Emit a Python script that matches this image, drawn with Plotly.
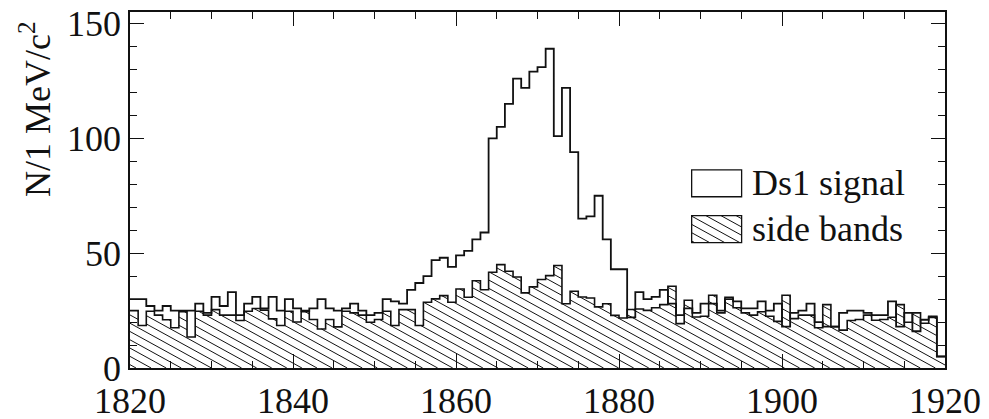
import numpy as np
import plotly.graph_objects as go

# Mass histogram, 1 MeV/c^2 bins from 1820 to 1920
bin_start = 1820
bin_width = 1
signal = [
    30, 30, 27, 25, 27, 25, 25, 25, 28, 24,
    31, 27, 33, 23, 28, 31, 26, 31, 25, 30,
    26, 25, 26, 30, 26, 25, 26, 28, 25, 23,
    24, 30, 29, 28, 34, 37, 40, 47, 48, 44,
    49, 51, 56, 59, 100, 105, 115, 126, 122, 129,
    131, 139, 101, 122, 94, 65, 66, 75, 56, 43,
    43, 22, 33, 30, 31, 34, 28, 23, 26, 24,
    28, 28, 25, 30, 29, 26, 26, 29, 25, 28,
    18, 24, 25, 28, 20, 18, 18, 24, 25, 25,
    24, 23, 23, 29, 18, 24, 16, 21, 22, 5,
]
side_bands = [
    25, 18.5, 24.7, 23, 21, 17.5, 24.5, 13.5, 24.7, 23,
    25.4, 23, 23, 20.7, 24.7, 25.9, 25.2, 21.4, 18.5, 24.7,
    20, 24.5, 21.1, 17, 21.1, 17.9, 24.7, 24, 23, 19.9,
    21.1, 24.7, 18.5, 25.4, 25.4, 18.5, 28.6, 30.1, 31.5, 28.6,
    34.4, 30.8, 38, 34.1, 41.7, 45, 42.1, 39.6, 32.7, 35.3,
    38.5, 40.2, 44.6, 28, 33.4, 30.9, 30.5, 26.6, 28, 22.9,
    21.8, 25.5, 25.7, 25.1, 26.2, 27.6, 35.6, 19.3, 29.5, 22.2,
    22.5, 31.7, 24, 30.8, 26.2, 24, 23, 24.5, 22.5, 20.3,
    31.7, 21.5, 23, 23, 17.5, 27.6, 18, 16.5, 20.7, 21.1,
    23, 20.8, 21.1, 22.1, 27.6, 19.9, 24, 19.5, 22.5, 5,
]
legend_labels = ["Ds1 signal", "side bands"]
x_ticks = [1820, 1840, 1860, 1880, 1900, 1920]
y_ticks = [0, 50, 100, 150]

X_RANGE = [1820, 1920]
Y_RANGE = [0, 155]

# figure geometry (pixels)
W, H = 989, 419
ML, MR, MT, MB = 130, 43.5, 12, 50.5
PW, PH = W - ML - MR, H - MT - MB
px_per_x = PW / (X_RANGE[1] - X_RANGE[0])
px_per_y = PH / (Y_RANGE[1] - Y_RANGE[0])

FONT = "Liberation Serif"
INK = "#111111"

n = len(signal)
edges = bin_start + bin_width * np.arange(n + 1)


def step_xy(values):
    v = list(values)
    return list(edges), v + [v[-1]]


# hatch: lines falling to the right, ~29 deg, every ~8 px vertically
hatch_slope_px = 0.55
hatch_gap_px = 8.3
slope = hatch_slope_px * px_per_x / px_per_y       # data units per MeV
gap = hatch_gap_px / px_per_y                        # data units


def hatch_under(values):
    xs, ys = [], []
    top = max(values) + slope * (edges[-1] - edges[0]) + gap
    c = gap * 0.4
    while c < top:
        seg = None
        for i, h in enumerate(values):
            x0 = edges[i] - edges[0]
            x1 = edges[i + 1] - edges[0]
            lo = max(x0, (c - h) / slope)
            hi = min(x1, c / slope)
            if hi > lo:
                if seg is not None and abs(seg[1] - lo) < 1e-9:
                    seg[1] = hi
                else:
                    if seg is not None:
                        xs += [edges[0] + seg[0], edges[0] + seg[1], None]
                        ys += [c - slope * seg[0], c - slope * seg[1], None]
                    seg = [lo, hi]
        if seg is not None:
            xs += [edges[0] + seg[0], edges[0] + seg[1], None]
            ys += [c - slope * seg[0], c - slope * seg[1], None]
        c += gap
    return xs, ys


fig = go.Figure()

hx, hy = hatch_under(side_bands)
fig.add_trace(go.Scatter(x=hx, y=hy, mode="lines",
                         line=dict(color=INK, width=1),
                         hoverinfo="skip", showlegend=False))

sx, sy = step_xy(side_bands)
fig.add_trace(go.Scatter(x=sx, y=sy, mode="lines", line_shape="hv",
                         line=dict(color=INK, width=1.6),
                         name=legend_labels[1], showlegend=False))

gx, gy = step_xy(signal)
fig.add_trace(go.Scatter(x=gx, y=gy, mode="lines", line_shape="hv",
                         line=dict(color=INK, width=1.8),
                         name=legend_labels[0], showlegend=False))


def to_paper(px, py):
    return (px - ML) / PW, (H - MB - py) / PH


# hand-drawn legend: open box for the signal, hatched box for side bands
shapes = []
boxes = [(692, 170, 742, 197), (692, 216, 742, 243)]
for k, (bx0, by0, bx1, by1) in enumerate(boxes):
    p0 = to_paper(bx0, by1)
    p1 = to_paper(bx1, by0)
    shapes.append(dict(type="rect", xref="paper", yref="paper",
                       x0=p0[0], y0=p0[1], x1=p1[0], y1=p1[1],
                       line=dict(color=INK, width=1.3), fillcolor="rgba(0,0,0,0)"))
    if k == 1:
        b = by0 - hatch_slope_px * bx1 + 3
        while b < by1 - hatch_slope_px * bx0:
            xa = max(bx0, (by0 - b) / hatch_slope_px)
            xb = min(bx1, (by1 - b) / hatch_slope_px)
            if xb > xa:
                a = to_paper(xa, b + hatch_slope_px * xa)
                e = to_paper(xb, b + hatch_slope_px * xb)
                shapes.append(dict(type="line", xref="paper", yref="paper",
                                   x0=a[0], y0=a[1], x1=e[0], y1=e[1],
                                   line=dict(color=INK, width=1)))
            b += hatch_gap_px

annotations = []
for k, (bx0, by0, bx1, by1) in enumerate(boxes):
    tx, ty = to_paper(750, (by0 + by1) / 2)
    annotations.append(dict(text=legend_labels[k], xref="paper", yref="paper",
                            x=tx, y=ty, xanchor="left", yanchor="middle",
                            showarrow=False, font=dict(family=FONT, size=36, color=INK)))

tx, ty = to_paper(36, 109)
annotations.append(dict(text="N/1 MeV/c<sup>2</sup>", xref="paper", yref="paper",
                        x=tx, y=ty, xanchor="center", yanchor="middle", textangle=-90,
                        showarrow=False, font=dict(family=FONT, size=36, color=INK)))

axis_common = dict(showline=True, linecolor=INK, linewidth=1.8, mirror="ticks",
                   ticks="inside", tickcolor=INK, tickwidth=1.3, ticklen=14,
                   showgrid=False, zeroline=False, automargin=False,
                   tickfont=dict(family=FONT, size=36, color=INK))

fig.update_xaxes(range=X_RANGE, tickvals=x_ticks, ticktext=[str(v) for v in x_ticks],
                 minor=dict(ticks="inside", dtick=5, ticklen=7, tickcolor=INK, tickwidth=1.3),
                 **axis_common)
fig.update_yaxes(range=Y_RANGE, tickvals=y_ticks, ticktext=[str(v) for v in y_ticks],
                 minor=dict(ticks="inside", dtick=10, ticklen=7, tickcolor=INK, tickwidth=1.3),
                 **axis_common)

fig.update_layout(width=W, height=H,
                  margin=dict(l=ML, r=MR, t=MT, b=MB, pad=0, autoexpand=False),
                  paper_bgcolor="white", plot_bgcolor="white",
                  shapes=shapes, annotations=annotations, showlegend=False)

fig.write_html("out.html")
